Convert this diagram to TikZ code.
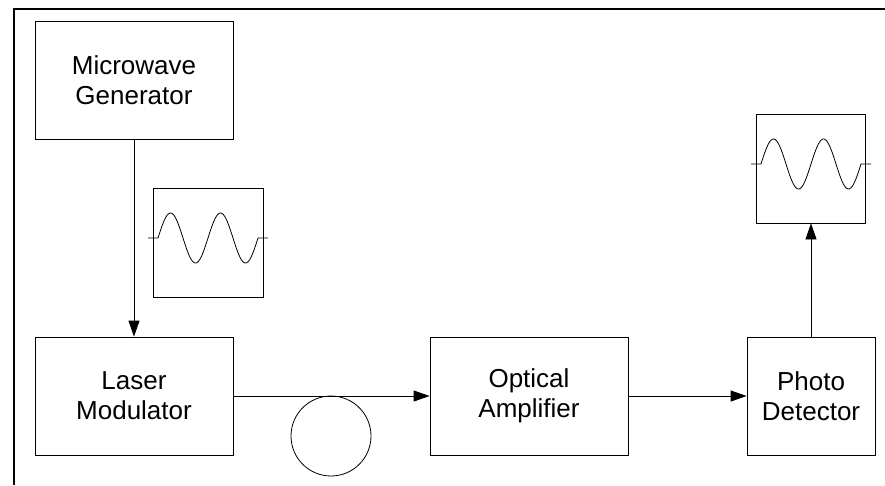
\documentclass[tikz,border=0pt]{standalone}
\usepackage{fontspec}
\setmainfont{Liberation Sans}
\usepackage{tikz}
\usetikzlibrary{arrows.meta,positioning}

\newcommand{\sinewave}[1]{%
  \begin{scope}[shift={(#1.center)}]
    \draw[wave] (-60,-4.5) -- (-50,-4.5) -- plot[domain=-50:50,samples=90] (\x,{-4.5-25*sin(7.2*(\x+50))}) -- (60,-4.5);
  \end{scope}}

\begin{document}
\begin{tikzpicture}[x=1pt,y=-1pt,
  block/.style={draw,line width=0.8pt,minimum width=198pt,minimum height=118pt,align=center,
    font=\fontsize{26}{30}\selectfont},
  scopebox/.style={draw,line width=0.8pt,minimum width=110pt,minimum height=109pt,inner sep=0pt},
  wave/.style={line width=0.8pt},
  arr/.style={line width=0.8pt,-{Triangle[length=16pt,width=11pt]}}]
  \useasboundingbox (0,0) rectangle (885,485);
  % moldura
  \draw[line width=2pt] (885,9) -- (14,9) -- (14,485);
  % blocos
  \node[block] (mwg) at (134,80) {Microwave\\Generator};
  \node[block] (lm) at (134,396) {Laser\\Modulator};
  \node[block] (oa) at (529,396) {Optical\\Amplifier};
  \node[block,minimum width=128pt] (pd) at (811,396) {Photo\\Detector};
  % fibra
  \node[draw,circle,line width=0.8pt,minimum size=80pt,inner sep=0pt] (fib) at (331,436) {};
  % sinais
  \node[scopebox] (wa) at (208,242.5) {};
  \node[scopebox,minimum width=109pt] (wb) at (811,168.5) {};
  \sinewave{wa}
  \sinewave{wb}
  % ligacoes
  \draw[arr] (mwg) -- (lm);
  \draw[arr] (lm) -- (oa);
  \draw[arr] (oa) -- (pd);
  \draw[arr] (pd) -- (wb);
\end{tikzpicture}
\end{document}
